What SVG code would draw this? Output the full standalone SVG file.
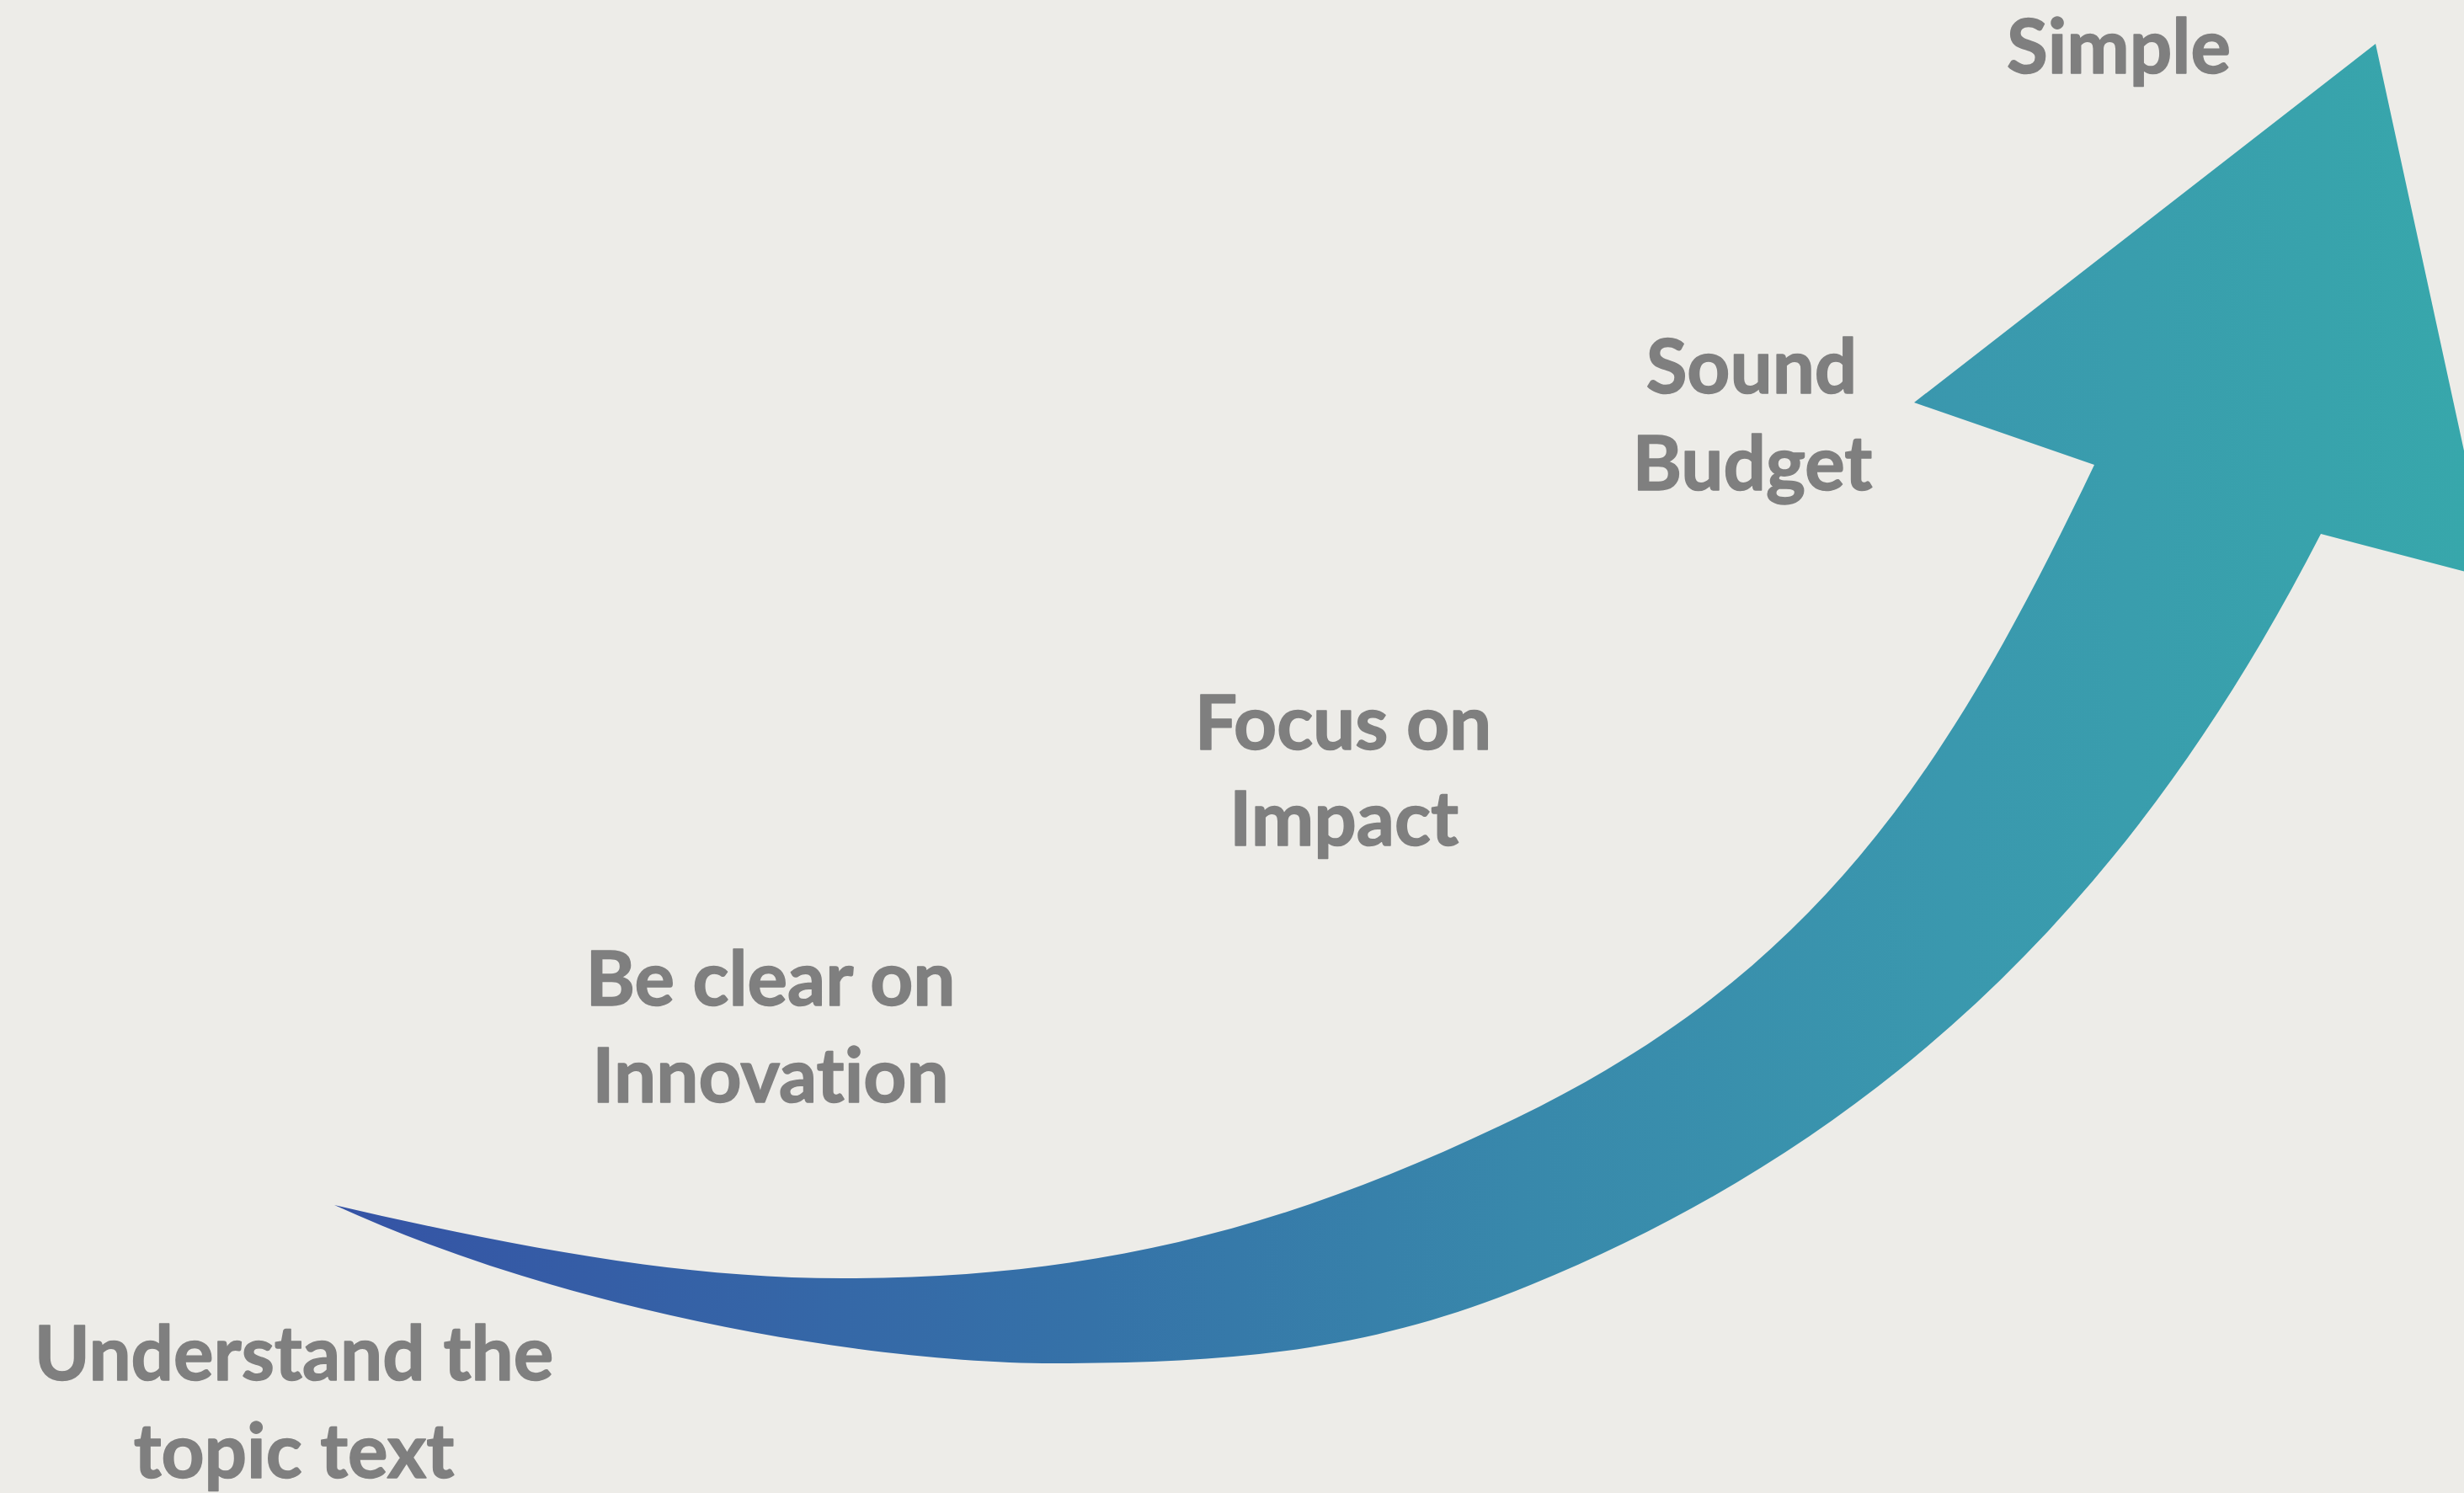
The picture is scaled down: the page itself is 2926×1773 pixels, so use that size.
<svg xmlns="http://www.w3.org/2000/svg" width="2926" height="1773" viewBox="0 0 2926 1773">
  <style>
    .lbl { font-family: Lato, "Liberation Sans", sans-serif; font-weight: bold; font-size: 89px; fill: #7F7F7F; stroke: #7F7F7F; stroke-width: 1.5px; stroke-linejoin: round; text-anchor: middle; font-variant-ligatures: none; font-feature-settings: "liga" 0, "clig" 0; }
  </style>
  <defs>
    <linearGradient id="arrowGrad" gradientUnits="userSpaceOnUse" x1="397" y1="0" x2="2960" y2="0">
      <stop offset="0" stop-color="#3553A5"/>
      <stop offset="0.35" stop-color="#3572A8"/>
      <stop offset="0.55" stop-color="#3888AB"/>
      <stop offset="0.75" stop-color="#3A98AE"/>
      <stop offset="1" stop-color="#37A8AB"/>
    </linearGradient>
  </defs>
  <rect x="0" y="0" width="2926" height="1773" fill="#EDECE8"/>
  <g id="connectors">
    <path id="arrow" fill="url(#arrowGrad)" d="M397,1431
      C600,1478 800,1518 1000,1518
      C1300,1518 1530,1459 1800,1328
      C2160,1154 2315,912 2487,552
      L2273,478 L2821,52 L2959,687 L2756,634
      C2551,1034 2264,1348 1800,1533
      C1614,1607 1450,1619 1250,1619
      C1050,1619 690,1565 397,1431 Z"/>
  </g>
  <g id="node-simple">
    <text class="lbl" x="2516" y="87">Simple</text>
  </g>
  <g id="node-sound-budget">
    <text class="lbl" x="2080" y="467">Sound</text>
    <text class="lbl" x="2081" y="582">Budget</text>
  </g>
  <g id="node-focus-impact">
    <text class="lbl" x="1595" y="890">Focus on</text>
    <text class="lbl" x="1596" y="1004">Impact</text>
  </g>
  <g id="node-be-clear">
    <text class="lbl" x="915" y="1194">Be clear on</text>
    <text class="lbl" x="915" y="1309">Innovation</text>
  </g>
  <g id="node-understand">
    <text class="lbl" x="349" y="1639">Understand the</text>
    <text class="lbl" x="349" y="1755">topic text</text>
  </g>
</svg>
